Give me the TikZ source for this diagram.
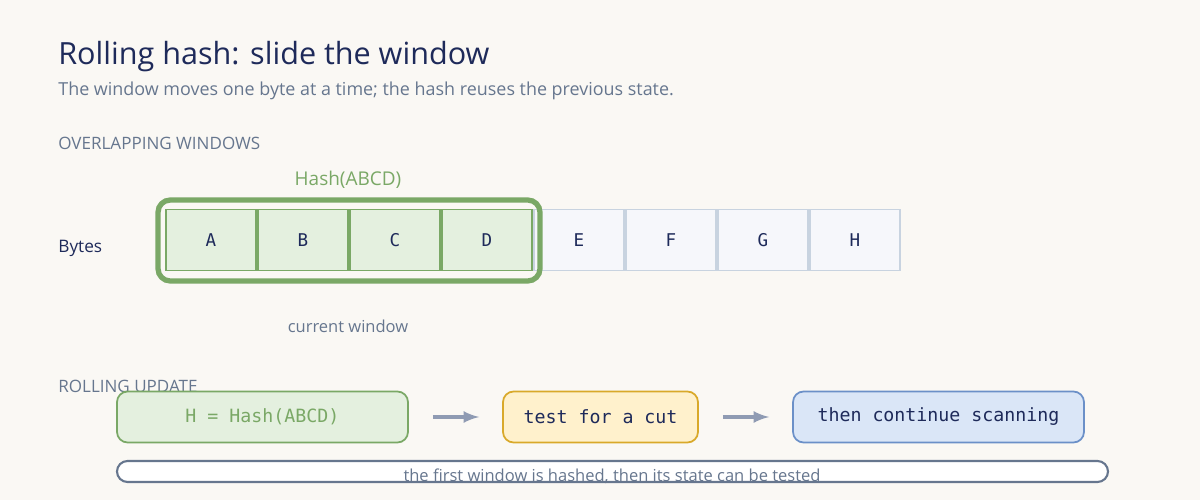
\documentclass[tikz,border=0pt]{standalone}
\usepackage{fontspec}
\setmainfont{Open Sans}
\setmonofont{DejaVu Sans Mono}
\usetikzlibrary{positioning}
\definecolor{bgc}{HTML}{FAF8F4}
\definecolor{navy}{HTML}{1E2A5A}
\definecolor{slate}{HTML}{66768E}
\definecolor{grn}{HTML}{7AA866}
\definecolor{grnfill}{HTML}{E4F0DF}
\definecolor{grey}{HTML}{C8D3E0}
\definecolor{greyfill}{HTML}{F6F7FB}
\definecolor{amber}{HTML}{D9A92A}
\definecolor{amberfill}{HTML}{FFF1CC}
\definecolor{blu}{HTML}{6B90C8}
\definecolor{blufill}{HTML}{DAE6F7}
\definecolor{arrowc}{HTML}{8F9BB3}
\tikzset{
  cell/.style={rectangle,draw=grey,fill=greyfill,line width=1pt,minimum width=1.805cm,minimum height=1.22cm,inner sep=0pt,font=\ttfamily\fontsize{10}{12}\selectfont,text=navy},
  incell/.style={cell,draw=grn,fill=grnfill},
  stage/.style={rectangle,rounded corners=6pt,line width=1pt,minimum height=1.02cm,inner sep=0pt,font=\ttfamily\fontsize{10.4}{12}\selectfont,text=navy},
  flow/.style={-latex,line width=2pt,draw=arrowc},
  caption/.style={text=slate,inner sep=0pt}
}
\begin{document}
\begin{tikzpicture}[x=0.02cm,y=-0.02cm]
\fill[bgc] (0,0) rectangle (1200,500);
\useasboundingbox (0,0) rectangle (1200,500);

\node[anchor=base west,inner sep=0pt,text=navy,font=\fontsize{17.4}{21}\selectfont] (title) at (58,65) {Rolling hash: slide the window};
\node[anchor=base west,caption,font=\fontsize{10.2}{12}\selectfont] (sub) at (58,96) {The window moves one byte at a time; the hash reuses the previous state.};
\node[anchor=base west,caption,font=\fontsize{9.7}{12}\selectfont] (sec1) at (58,150) {OVERLAPPING WINDOWS};
\node[anchor=base west,inner sep=0pt,text=navy,font=\fontsize{9.8}{12}\selectfont] (bytes) at (58,252) {Bytes};

% byte cells
\node[incell] (A) at (211,240) {A};
\foreach \n/\p in {B/A,C/B,D/C}
  \node[incell,right=0pt of \p] (\n) {\n};
\foreach \n/\p in {E/D,F/E,G/F,H/G}
  \node[cell,right=0pt of \p] (\n) {\n};

% window
\draw[grn,line width=3pt,rounded corners=7pt] (158,200) rectangle (540,281);
\node[text=grn,font=\fontsize{10.8}{13}\selectfont,inner sep=0pt] (hash) at (348,180) {Hash(ABCD)};
\node[caption,font=\fontsize{9.4}{12}\selectfont] (cur) at (348,326) {current window};

\node[anchor=base west,caption,font=\fontsize{9.7}{12}\selectfont] (sec2) at (58,392) {ROLLING UPDATE};

% rolling update
\node[stage,draw=grn,fill=grnfill,text=grn,minimum width=5.82cm] (h) at (262.5,417) {H = Hash(ABCD)};
\node[stage,draw=amber,fill=amberfill,minimum width=3.9cm] (t) at (600.5,417) {test for a cut};
\node[stage,draw=blu,fill=blufill,minimum width=5.82cm] (s) at (938.5,417) {then continue scanning};
\draw[flow] ([xshift=0.48cm]h.east) -- ([xshift=-0.46cm]t.west);
\draw[flow] ([xshift=0.48cm]t.east) -- ([xshift=-0.46cm]s.west);

\draw[slate,fill=white,line width=1.2pt,rounded corners=6pt] (117,461) rectangle (1108,482);
\node[caption,font=\fontsize{9.4}{12}\selectfont] (note) at (612,476) {the first window is hashed, then its state can be tested};
\end{tikzpicture}
\end{document}
